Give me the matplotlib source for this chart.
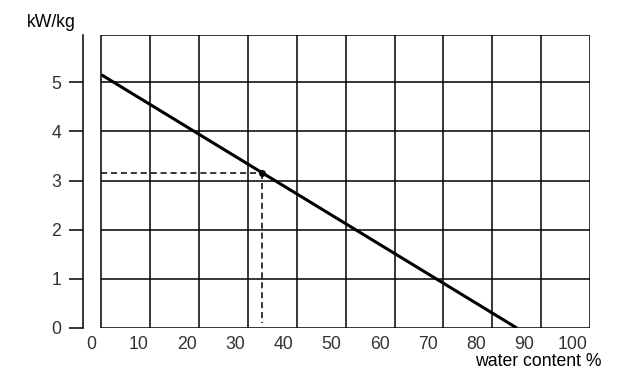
import numpy as np
import matplotlib.pyplot as plt

plt.rcParams["font.family"] = ["Liberation Sans", "DejaVu Sans"]

# heating value line (water content %, kW/kg)
water = [2.2, 88.5]
heat = [5.15, 0.0]

# marked reading
mark_water = 35.5
mark_heat = 3.16

x_ticks = list(range(0, 101, 10))
y_ticks = [0, 1, 2, 3, 4, 5]

fig = plt.figure(figsize=(6.3, 3.87), dpi=100)
ax = fig.add_axes([82.7 / 630, 1 - 328 / 387, (590 - 82.7) / 630, (328 - 35) / 387])
ax.set_xlim(-1.7, 103.7)
ax.set_ylim(0, 5.96)

# grid box, shifted right of the axis line
box_left, box_right, box_top = 2.2, 103.7, 5.96
for gx in np.linspace(box_left, box_right, 11):
    ax.vlines(gx, 0, box_top, color="black", lw=1.1)
ax.hlines(y_ticks + [box_top], box_left, box_right, color="black", lw=1.1)

ax.plot(water, heat, color="black", lw=2.2, solid_capstyle="butt")

ax.plot([box_left, mark_water], [mark_heat, mark_heat], color="black", lw=1.1,
        dashes=(4, 2.5))
ax.plot([mark_water, mark_water], [mark_heat, 0.1], color="black", lw=1.1,
        dashes=(4, 2.5))
ax.plot(mark_water, mark_heat, "o", color="black", ms=4)

for s in ["top", "right", "bottom"]:
    ax.spines[s].set_visible(False)
ax.spines["left"].set_linewidth(1.1)

ax.set_xticks(x_ticks)
ax.set_yticks(y_ticks)
ax.tick_params(axis="x", length=0, pad=6, labelsize=12.7, labelcolor="#333333")
ax.tick_params(axis="y", length=10, width=1.1, pad=5.5, labelsize=12.7,
               labelcolor="#333333")

fig.text(27 / 630, 1 - 27 / 387, "kW/kg", fontsize=12.7, va="baseline")
fig.text(475 / 630, 1 - 366 / 387, "water content %", fontsize=12.7, va="baseline")

fig.savefig("out.png", dpi=100)
